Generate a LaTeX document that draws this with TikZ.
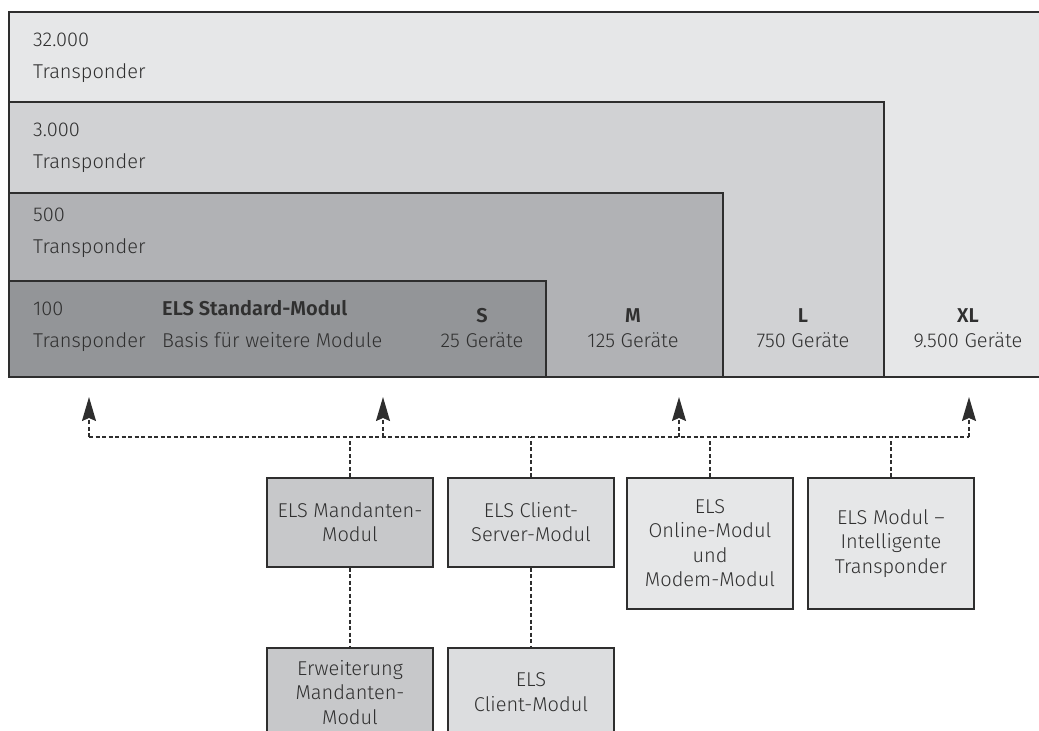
\documentclass[tikz,border=0pt]{standalone}
\usepackage{fontspec}
\setmainfont{Fira Sans Light}[BoldFont={Fira Sans SemiBold}]
\usepackage{xcolor}
\usetikzlibrary{arrows.meta}

\definecolor{levXL}{HTML}{E6E7E8}
\definecolor{levL}{HTML}{D1D2D4}
\definecolor{levM}{HTML}{B1B2B5}
\definecolor{levS}{HTML}{939598}
\definecolor{modDark}{HTML}{C7C8CA}
\definecolor{modMid}{HTML}{DCDDDF}
\definecolor{modLight}{HTML}{E6E7E8}
\definecolor{edge}{HTML}{2E2E2E}
\definecolor{ink}{HTML}{303030}

\tikzset{
    level/.style={draw=edge, line width=1.5pt},
    modbox/.style={draw=edge, line width=1.5pt, minimum width=166pt, minimum height=89pt,
        anchor=north, align=center, inner sep=0pt, text=ink, font=\fontsize{20}{24.5}\selectfont},
    lbl/.style={anchor=base west, inner sep=0pt, text=ink, font=\fontsize{20}{24}\selectfont},
    sizelbl/.style={anchor=base, inner sep=0pt, text=ink, font=\fontsize{20}{24}\selectfont},
    conn/.style={draw=edge, line width=1.4pt, dash pattern=on 4pt off 2.5pt},
    uparrow/.style={conn, -{Stealth[length=24pt,width=14pt,inset=3pt,sep=0pt]}}
}

\begin{document}
\begin{tikzpicture}[x=1pt, y=-1pt]
    \useasboundingbox (0,0) rectangle (1039,731);

    % nested levels
    \draw[level, fill=levXL] (9,12) rectangle (1050,377);
    \draw[level, fill=levL] (9,102) rectangle (884,377);
    \draw[level, fill=levM] (9,193) rectangle (723,377);
    \draw[level, fill=levS] (9,281) rectangle (546,377);

    \node[lbl] (nXL) at (33,46) {32.000};
    \node[lbl] (tXL) at (33,78) {Transponder};
    \node[lbl] (nL) at (33,136) {3.000};
    \node[lbl] (tL) at (33,168) {Transponder};
    \node[lbl] (nM) at (33,221) {500};
    \node[lbl] (tM) at (33,253) {Transponder};
    \node[lbl] (nS) at (33,315) {100};
    \node[lbl] (tS) at (33,347) {Transponder};

    \node[lbl] (std) at (162,315) {\textbf{ELS Standard-Modul}};
    \node[lbl] (stdsub) at (162,347) {Basis für weitere Module};

    \node[sizelbl] (sS) at (482,322) {\textbf{S}};
    \node[sizelbl] (gS) at (482,347) {25 Geräte};
    \node[sizelbl] (sM) at (633,322) {\textbf{M}};
    \node[sizelbl] (gM) at (633,347) {125 Geräte};
    \node[sizelbl] (sL) at (803,322) {\textbf{L}};
    \node[sizelbl] (gL) at (803,347) {750 Geräte};
    \node[sizelbl] (sXL) at (968,322) {\textbf{XL}};
    \node[sizelbl] (gXL) at (968,347) {9.500 Geräte};

    % modules
    \node[modbox, fill=modDark] (mand) at (350,477) {ELS Mandanten-\\Modul};
    \node[modbox, fill=modMid] (cs) at (531,477) {ELS Client-\\Server-Modul};
    \node[modbox, fill=modLight, minimum height=131pt] (online) at (710,477) {ELS\\Online-Modul\\und\\Modem-Modul};
    \node[modbox, fill=modLight, minimum height=131pt] (intel) at (891,477) {ELS Modul --\\Intelligente\\Transponder};
    \node[modbox, fill=modDark] (ext) at (350,647) {Erweiterung\\Mandanten-\\Modul};
    \node[modbox, fill=modMid] (cli) at (531,647) {ELS\\Client-Modul};

    % connectors
    \coordinate (busW) at (89,437);
    \coordinate (busE) at (969,437);
    \coordinate (upS) at (89,397);
    \coordinate (upStd) at (383,397);
    \coordinate (upM) at (679,397);
    \coordinate (upXL) at (969,397);

    \draw[conn] (busW) -- (busE);
    \draw[uparrow] (busW) -- (upS);
    \draw[uparrow] (upStd |- busW) -- (upStd);
    \draw[uparrow] (upM |- busW) -- (upM);
    \draw[uparrow] (busE) -- (upXL);

    \draw[conn] (mand.north) -- (mand.north |- busW);
    \draw[conn] (cs.north) -- (cs.north |- busW);
    \draw[conn] (online.north) -- (online.north |- busW);
    \draw[conn] (intel.north) -- (intel.north |- busW);
    \draw[conn] (mand.south) -- (ext.north);
    \draw[conn] (cs.south) -- (cli.north);
\end{tikzpicture}
\end{document}
